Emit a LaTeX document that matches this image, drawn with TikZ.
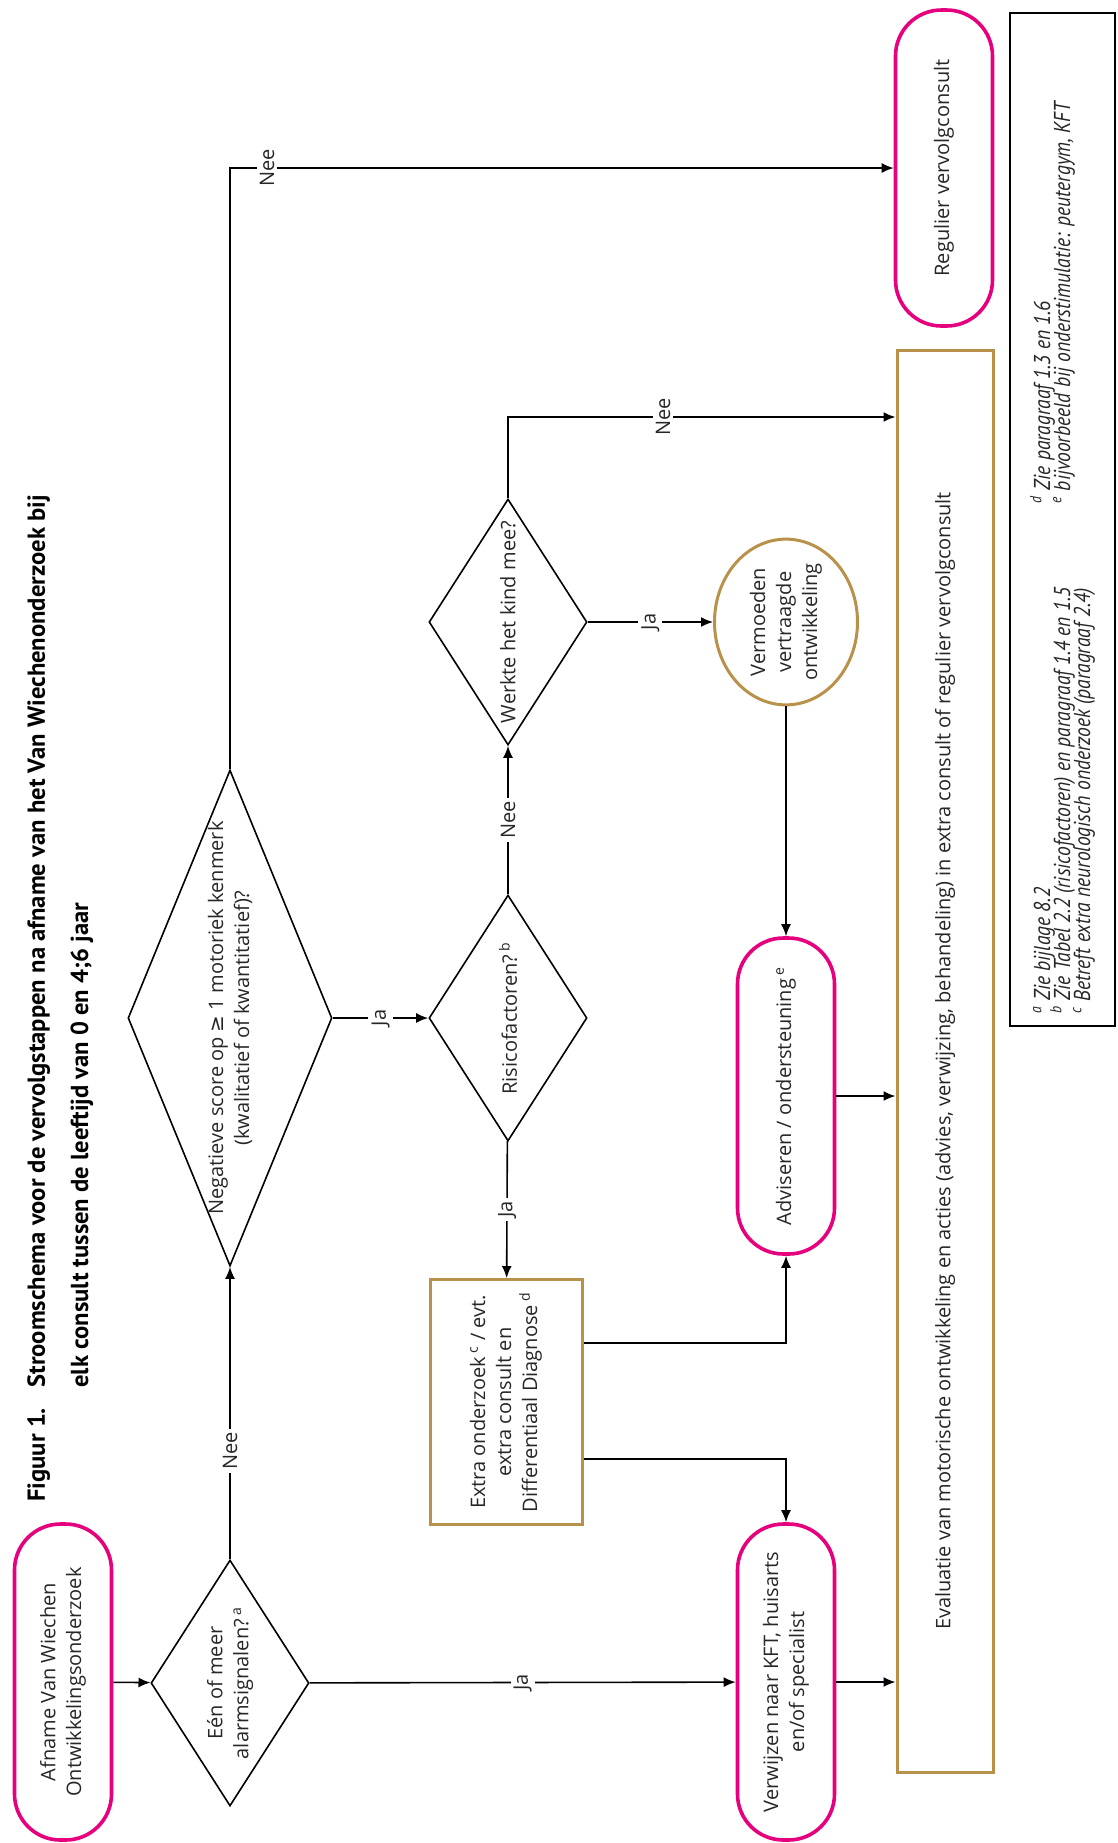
\documentclass[tikz,border=0pt]{standalone}
\usepackage{fontspec}
\setmainfont{Open Sans}
\newfontfamily\titlefont{PT Sans}
\newfontfamily\notefont[FakeStretch=0.85]{PT Sans}
\newfontfamily\symfont{DejaVu Sans}
\usetikzlibrary{shapes.geometric,arrows.meta}
\definecolor{vwpink}{RGB}{230,0,126}
\definecolor{vwgold}{RGB}{184,145,74}
\tikzset{
  txt/.style={rotate=90, align=center, font=\fontsize{10}{13}\selectfont, text=black!85, inner sep=0pt},
  terminal/.style={txt, draw=vwpink, line width=1.8pt, rectangle, rounded corners=23pt, minimum width=158pt, minimum height=48.5pt},
  actionbox/.style={txt, draw=vwgold, line width=1.5pt, rectangle},
  choice/.style={draw, diamond, line width=0.8pt, inner sep=0pt, minimum width=79pt, minimum height=123pt},
  arr/.style={draw, line width=0.8pt, -{Latex[length=6pt,width=5pt]}},
  lbl/.style={rotate=90, fill=white, inner sep=1.5pt, text=black!85, font=\fontsize{10}{12}\selectfont},
  titel/.style={rotate=90, anchor=base west, inner sep=0pt, font=\titlefont\bfseries\fontsize{12.3}{15}\selectfont},
  note/.style={rotate=90, anchor=base west, inner sep=0pt, text=black!85, font=\notefont\itshape\fontsize{11.5}{13}\selectfont},
}
\begin{document}
\begin{tikzpicture}[x=0.5pt, y=-0.5pt]
\useasboundingbox (0,0) rectangle (1118,1843);

% titel
\node[titel] (fig) at (45,1502) {Figuur 1.};
\node[titel] (titel1) at (45,1388) {Stroomschema voor de vervolgstappen na afname van het Van Wiechenonderzoek bij};
\node[titel] (titel2) at (88,1388) {elk consult tussen de leeftijd van 0 en 4;6 jaar};

% kolom 1
\node[terminal] (afname) at (63,1682) {Afname Van Wiechen\\Ontwikkelingsonderzoek};
\node[choice] (d1) at (230,1683) {};
\node[txt] (d1t) at (d1) {Eén of meer\\alarmsignalen?\,\textsuperscript{a}};
\node[choice, minimum width=102pt, minimum height=248pt] (d2) at (230,1018) {};
\node[txt] (d2t) at (d2) {Negatieve score op {\symfont ≥} 1 motoriek kenmerk\\(kwalitatief of kwantitatief)?};

% kolom 2
\node[choice] (d3) at (508,1018) {};
\node[txt] (d3t) at (d3) {Risicofactoren?\,\textsuperscript{b}};
\node[choice] (d4) at (508,622) {};
\node[txt] (d4t) at (d4) {Werkte het kind mee?};
\node[actionbox, minimum width=122.5pt, minimum height=76pt] (extra) at (506,1402)
  {Extra onderzoek\,\textsuperscript{c} / evt.\\extra consult en\\Differentiaal Diagnose\,\textsuperscript{d}};

% kolom 3
\node[actionbox, ellipse, minimum width=79.5pt, minimum height=71.5pt] (verm) at (786,622) {Vermoeden\\vertraagde\\ontwikkeling};
\node[terminal] (advies) at (786,1096) {Adviseren / ondersteuning\,\textsuperscript{e}};
\node[terminal] (verwijs) at (786,1682) {Verwijzen naar KFT, huisarts\\en/of specialist};

% kolom 4
\node[terminal] (regulier) at (944,168) {Regulier vervolgconsult};
\node[actionbox, minimum width=711pt, minimum height=48pt] (eval) at (945,1061)
  {Evaluatie van motorische ontwikkeling en acties (advies, verwijzing, behandeling) in extra consult of regulier vervolgconsult};

% pijlen
\draw[arr] (afname) -- (d1);
\draw[arr] (d1) -- node[lbl, pos=0.37] {Nee} (d2);
\draw[arr] (d1) -- node[lbl] {Ja} (verwijs);
\draw[arr] (d2) |- node[lbl, pos=0.528] {Nee} (regulier);
\draw[arr] (d2) -- node[lbl] {Ja} (d3);
\draw[arr] (d3) -- node[lbl] {Nee} (d4);
\draw[arr] (d3) -- node[lbl] {Ja} (extra);
\draw[arr] (d4) -- node[lbl] {Ja} (verm);
\draw[arr] (d4) |- node[lbl, pos=0.7] {Nee} (eval.north |- 0,417);
\draw[arr] (verm) -- (advies);
\draw[arr] (advies) -- (advies -| eval.north);
\draw[arr] (verwijs) -- (verwijs -| eval.north);
\coordinate (ex1) at (extra.south |- 0,1343);
\coordinate (ex2) at (extra.south |- 0,1459);
\draw[arr] (ex1) -| (advies);
\draw[arr] (ex2) -| (verwijs);

% voetnoten
\draw[line width=1pt] (1010,13) rectangle (1115,1026);
\node[note] (na) at (1050,1014) {\textsuperscript{a} Zie bijlage 8.2};
\node[note] (nb) at (1070,1014) {\textsuperscript{b} Zie Tabel 2.2 (risicofactoren) en paragraaf 1.4 en 1.5};
\node[note] (nc) at (1090,1014) {\textsuperscript{c} Betreft extra neurologisch onderzoek (paragraaf 2.4)};
\node[note] (nd) at (1050,504) {\textsuperscript{d} Zie paragraaf 1.3 en 1.6};
\node[note] (ne) at (1070,504) {\textsuperscript{e} bijvoorbeeld bij onderstimulatie: peutergym, KFT};
\end{tikzpicture}
\end{document}
